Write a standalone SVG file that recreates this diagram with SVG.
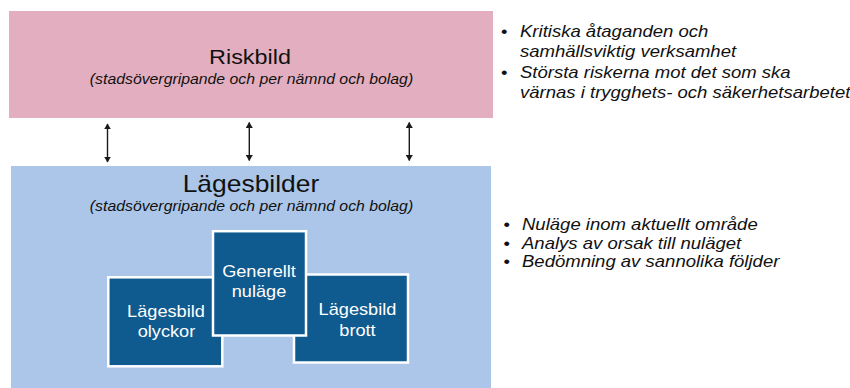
<svg xmlns="http://www.w3.org/2000/svg" width="850" height="388" viewBox="0 0 850 388">
  <defs>
    <marker id="ah" viewBox="0 0 10 10" refX="9" refY="5" markerWidth="6" markerHeight="7" markerUnits="userSpaceOnUse" orient="auto-start-reverse" preserveAspectRatio="none">
      <path d="M0,0 L10,5 L0,10 z" fill="#1a1a1a"/>
    </marker>
  </defs>
  <style>
    text { font-family: "Liberation Sans", Arial, sans-serif; }
    .title { fill: #111; text-anchor: middle; }
    .sub { font-size: 14px; font-style: italic; fill: #111; text-anchor: middle; }
    .box { fill: #0f5a8e; stroke: #ffffff; stroke-width: 2.5; }
    .boxtxt { font-size: 16.1px; fill: #ffffff; text-anchor: middle; }
    .bul { font-size: 16.4px; font-style: italic; fill: #111; }
    .dot { font-size: 16.4px; fill: #111; }
    .conn { stroke: #1a1a1a; stroke-width: 1.4; fill: none; marker-start: url(#ah); marker-end: url(#ah); }
  </style>

  <rect width="850" height="388" fill="#ffffff"/>

  <g id="riskbild">
    <rect x="9" y="11" width="484" height="107" fill="#e3afc0"/>
    <text class="title" transform="translate(250 63.5) scale(1.13 1)" style="font-size:20.7px">Riskbild</text>
    <text class="sub" transform="translate(251.5 84) scale(1.13 1)">(stadsövergripande och per nämnd och bolag)</text>
  </g>

  <g id="lagesbilder">
    <rect x="11" y="166" width="480" height="222" fill="#abc6e8"/>
    <text class="title" transform="translate(251 191.5) scale(1.13 1)" style="font-size:23.4px">Lägesbilder</text>
    <text class="sub" transform="translate(251.5 210.8) scale(1.13 1)">(stadsövergripande och per nämnd och bolag)</text>
  </g>

  <g id="lagesbild-olyckor">
    <rect class="box" x="108.3" y="277.3" width="114" height="89"/>
    <text class="boxtxt" transform="translate(166 317.3) scale(1.13 1)">Lägesbild</text>
    <text class="boxtxt" transform="translate(166.5 336.7) scale(1.13 1)">olyckor</text>
  </g>

  <g id="lagesbild-brott">
    <rect class="box" x="294" y="274.5" width="114" height="88"/>
    <text class="boxtxt" transform="translate(357.5 315.3) scale(1.13 1)">Lägesbild</text>
    <text class="boxtxt" transform="translate(357.5 336) scale(1.13 1)">brott</text>
  </g>

  <g id="generellt-nulage">
    <rect class="box" x="213" y="231.2" width="93" height="104.3"/>
    <text class="boxtxt" transform="translate(259 276.7) scale(1.13 1)">Generellt</text>
    <text class="boxtxt" transform="translate(259 297.3) scale(1.13 1)">nuläge</text>
  </g>

  <g id="connectors">
    <line class="conn" x1="107.5" y1="124" x2="107.5" y2="162"/>
    <line class="conn" x1="249.3" y1="122.5" x2="249.3" y2="160.5"/>
    <line class="conn" x1="409.3" y1="122.5" x2="409.3" y2="160.5"/>
  </g>

  <g id="risk-bullets">
    <text class="dot" transform="translate(501 36.7) scale(1.13 1)">•</text>
    <text class="bul" transform="translate(520 36.7) scale(1.13 1)">Kritiska åtaganden och</text>
    <text class="bul" transform="translate(520 56.7) scale(1.13 1)">samhällsviktig verksamhet</text>
    <text class="dot" transform="translate(501 78.3) scale(1.13 1)">•</text>
    <text class="bul" transform="translate(520 78.3) scale(1.13 1)">Största riskerna mot det som ska</text>
    <text class="bul" transform="translate(520 97.8) scale(1.13 1)">värnas i trygghets- och säkerhetsarbetet</text>
  </g>

  <g id="lage-bullets">
    <text class="dot" transform="translate(503.5 230) scale(1.13 1)">•</text>
    <text class="bul" transform="translate(522 230) scale(1.13 1)">Nuläge inom aktuellt område</text>
    <text class="dot" transform="translate(503.5 248.5) scale(1.13 1)">•</text>
    <text class="bul" transform="translate(522 248.5) scale(1.13 1)">Analys av orsak till nuläget</text>
    <text class="dot" transform="translate(503.5 267) scale(1.13 1)">•</text>
    <text class="bul" transform="translate(522 267) scale(1.13 1)">Bedömning av sannolika följder</text>
  </g>
</svg>
